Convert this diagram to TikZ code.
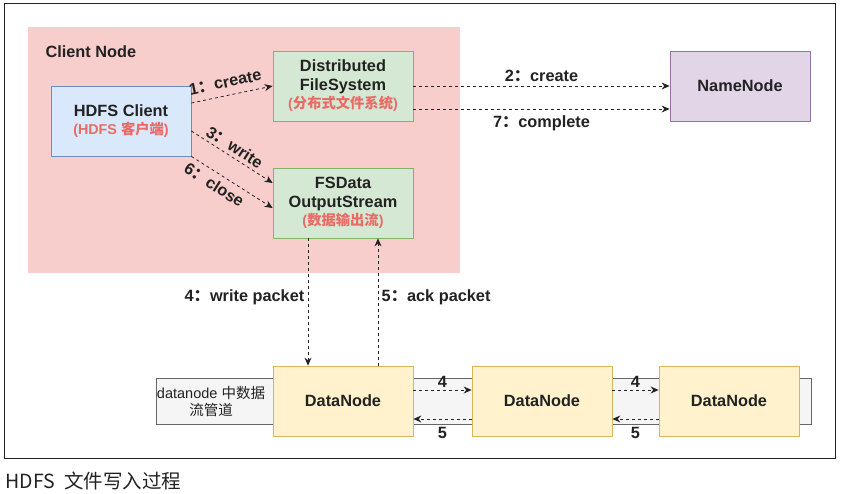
\documentclass[tikz,border=0pt]{standalone}
\usepackage{fontspec}
\setmainfont{Liberation Sans}
\newfontfamily\cjk{Noto Sans CJK SC}
\usetikzlibrary{arrows.meta,positioning}

\definecolor{pinkbg}{HTML}{F8CECC}
\definecolor{bluef}{HTML}{DAE8FC}
\definecolor{blued}{HTML}{6C8EBF}
\definecolor{greenf}{HTML}{D5E8D4}
\definecolor{greend}{HTML}{82B366}
\definecolor{purplef}{HTML}{E1D5E7}
\definecolor{purpled}{HTML}{9673A6}
\definecolor{yellowf}{HTML}{FFF2CC}
\definecolor{yellowd}{HTML}{D6B656}
\definecolor{grayf}{HTML}{F5F5F5}
\definecolor{grayd}{HTML}{666666}
\definecolor{redtxt}{HTML}{EA6B66}
\definecolor{txt}{HTML}{222222}

\newcommand{\fwc}{{\cjk ：}}
\newcommand{\sub}[1]{{\color{redtxt}\fontsize{14.3}{17}\selectfont #1}}

\tikzset{
  box/.style={draw, line width=0.8pt, minimum width=140pt, minimum height=70pt,
    align=center, text=txt, font=\bfseries\fontsize{16.3}{18.5}\selectfont},
  lbl/.style={text=txt, font=\bfseries\fontsize{16.3}{18.5}\selectfont},
  flow/.style={dashed, line width=0.8pt, draw=txt, -{Stealth[length=8pt,width=7pt]}}
}

\begin{document}
\begin{tikzpicture}[x=1pt,y=1pt]
    \fill[white] (0,0) rectangle (855,493);
    \draw[line width=1pt, draw=txt] (4,489) rectangle (835,34);
    \fill[pinkbg] (28,466) rectangle (460,220);
    \node[lbl, anchor=west] (cn) at (42,441) {Client Node};

    \node[box, fill=bluef, draw=blued] (client) at (121,372) {HDFS Client\\\sub{(HDFS {\cjk 客户端})}};
    \node[box, fill=greenf, draw=greend] (dfs) at (343,407) {Distributed\\FileSystem\\\sub{({\cjk 分布式文件系统})}};
    \node[box, fill=greenf, draw=greend] (out) at (343,290) {FSData\\OutputStream\\\sub{({\cjk 数据输出流})}};
    \node[box, fill=purplef, draw=purpled] (nn) at (740,407) {NameNode};

    \node[draw=grayd, fill=grayf, line width=0.8pt, minimum width=655pt, minimum height=46pt] (pipe) at (483.5,92) {};
    \node[text=txt, align=center, font=\fontsize{14.5}{17}\selectfont] (pipetxt) at (211,92) {datanode {\cjk 中数据}\\{\cjk 流管道}};
    \node[box, fill=yellowf, draw=yellowd] (dn1) at (343,92) {DataNode};
    \node[box, fill=yellowf, draw=yellowd] (dn2) at (542,92) {DataNode};
    \node[box, fill=yellowf, draw=yellowd] (dn3) at (729,92) {DataNode};

    \draw[flow] ([yshift=18]client.east) -- node[lbl, above=4pt, sloped, pos=0.45] {1\fwc create} (dfs.west);
    \draw[flow] ([yshift=-10]client.east) -- node[lbl, above, sloped, pos=0.47] {3\fwc write} ([yshift=20]out.west);
    \draw[flow] (client.south east) -- node[lbl, below=2pt, sloped, pos=0.36] {6\fwc close} ([yshift=-5]out.west);
    \draw[flow] (dfs.east) -- node[lbl, above=1pt] {2\fwc create} (nn.west);
    \draw[flow] ([yshift=-23]dfs.east) -- node[lbl, below=3pt] {7\fwc complete} ([yshift=-23]nn.west);

    \draw[flow] ([xshift=-35]out.south) -- node[lbl, left, pos=0.46] {4\fwc write packet} ([xshift=-35]dn1.north);
    \draw[flow] ([xshift=35]dn1.north) -- node[lbl, right, pos=0.54] {5\fwc ack packet} ([xshift=35]out.south);

    \draw[flow] ([yshift=11]dn1.east) -- node[lbl, above=1pt, inner sep=1pt] {4} ([yshift=11]dn2.west);
    \draw[flow] ([yshift=-18]dn2.west) -- node[lbl, below=7pt, inner sep=1pt] {5} ([yshift=-18]dn1.east);
    \draw[flow] ([yshift=11]dn2.east) -- node[lbl, above=1pt, inner sep=1pt] {4} ([yshift=11]dn3.west);
    \draw[flow] ([yshift=-18]dn3.west) -- node[lbl, below=7pt, inner sep=1pt] {5} ([yshift=-18]dn2.east);

    \node[anchor=west, text=txt, font=\cjk\fontsize{19.5}{22}\selectfont] (cap) at (2,12) {HDFS\hspace{9pt}文件写入过程};
\end{tikzpicture}
\end{document}
